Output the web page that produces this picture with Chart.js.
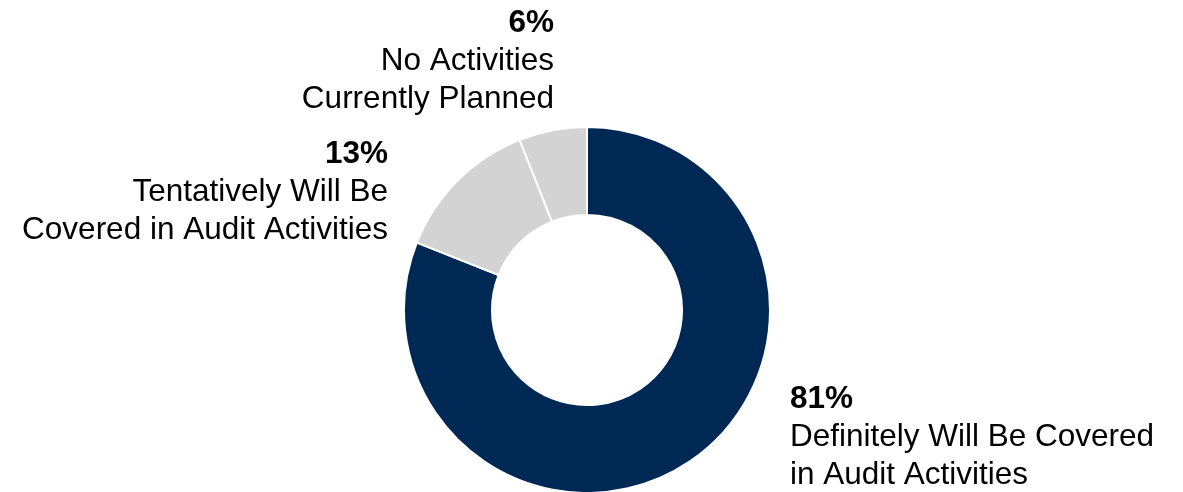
<!DOCTYPE html>
<html>
<head>
<meta charset="utf-8">
<script src="https://cdn.jsdelivr.net/npm/chart.js@4.4.1/dist/chart.umd.min.js"></script>
<style>
  html, body { margin: 0; padding: 0; background: #ffffff; }
  #wrap { width: 1183px; height: 492px; position: relative; }
</style>
</head>
<body>
<div id="wrap"><canvas id="donut"></canvas></div>
<script>
const categories = [
  'Definitely Will Be Covered in Audit Activities',
  'Tentatively Will Be Covered in Audit Activities',
  'No Activities Currently Planned'
];
const shares = [81, 13, 6];
const sliceColors = ['#002855', '#d3d3d3', '#d3d3d3'];

// label text broken into lines like the original
const labelLines = [
  ['Definitely Will Be Covered', 'in Audit Activities'],
  ['Tentatively Will Be', 'Covered in Audit Activities'],
  ['No Activities', 'Currently Planned']
];

const FONT = "'Liberation Sans', Arial, sans-serif";

// where each label block sits, relative to the donut centre
const labelAnchors = [
  { dx: 203, dy: 98, align: 'left' },
  { dx: -199, dy: -147, align: 'right' },
  { dx: -33, dy: -278, align: 'right' }
];

const sliceLabels = {
  id: 'sliceLabels',
  afterDraw(chart) {
    const ctx = chart.ctx;
    const arc = chart.getDatasetMeta(0).data[0];
    const cx = arc.x, cy = arc.y;
    const lineH = 38;
    ctx.save();
    ctx.fillStyle = '#000000';
    ctx.textBaseline = 'alphabetic';
    shares.forEach((v, i) => {
      const a = labelAnchors[i];
      const x = cx + a.dx;
      let y = cy + a.dy;
      ctx.textAlign = a.align;
      ctx.font = `bold 31.5px ${FONT}`;
      ctx.fillText(v + '%', x, y);
      ctx.font = `31.5px ${FONT}`;
      labelLines[i].forEach(line => {
        y += lineH;
        ctx.fillText(line, x, y);
      });
    });
    ctx.restore();
  }
};

new Chart(document.getElementById('donut'), {
  type: 'doughnut',
  data: {
    labels: categories,
    datasets: [{
      data: shares,
      backgroundColor: sliceColors,
      borderColor: '#ffffff',
      borderWidth: 2,
      radius: 183,
      cutout: 94
    }]
  },
  options: {
    responsive: true,
    maintainAspectRatio: false,
    animation: false,
    layout: { padding: { left: 405, right: 414, top: 128, bottom: 0 } },
    plugins: {
      legend: { display: false },
      tooltip: { enabled: false }
    }
  },
  plugins: [sliceLabels]
});
</script>
</body>
</html>
